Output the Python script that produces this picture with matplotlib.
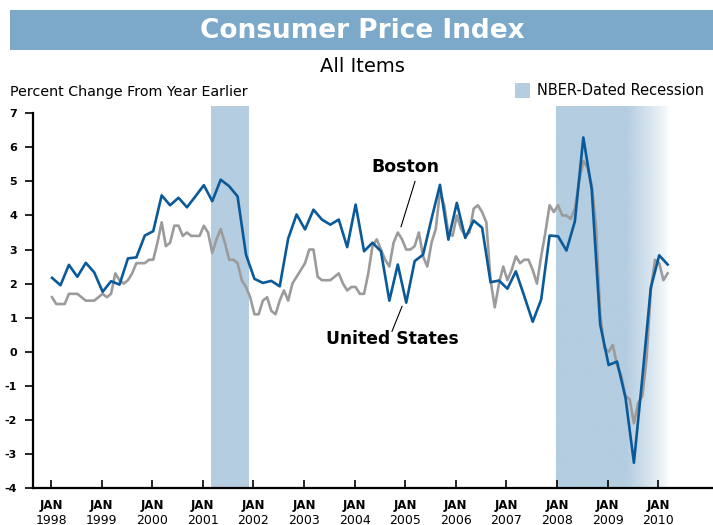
import numpy as np
import matplotlib
matplotlib.use("Agg")
import matplotlib.pyplot as plt
from matplotlib.patches import Rectangle
import matplotlib.transforms as mtransforms

# Boston CPI, bimonthly (Jan, Mar, May, Jul, Sep, Nov), Jan 1998 - Mar 2010
boston = [
    2.17, 1.95, 2.55, 2.20, 2.61, 2.33,   # 1998
    1.76, 2.07, 1.97, 2.74, 2.77, 3.41,   # 1999
    3.54, 4.59, 4.30, 4.52, 4.24, 4.56,   # 2000
    4.89, 4.42, 5.05, 4.86, 4.56, 2.85,   # 2001
    2.14, 2.02, 2.08, 1.92, 3.32, 4.03,   # 2002
    3.59, 4.17, 3.88, 3.73, 3.88, 3.07,   # 2003
    4.32, 2.95, 3.20, 2.95, 1.50, 2.56,   # 2004
    1.44, 2.66, 2.85, 3.90, 4.90, 3.29,   # 2005
    4.37, 3.34, 3.85, 3.64, 2.04, 2.09,   # 2006
    1.85, 2.36, 1.63, 0.88, 1.53, 3.41,   # 2007
    3.39, 2.97, 3.83, 6.29, 4.76, 0.80,   # 2008
    -0.39, -0.29, -1.35, -3.26, -0.76, 1.88,  # 2009
    2.83, 2.56,                           # 2010
]

# United States CPI, monthly, Jan 1998 - Mar 2010
us = [
    1.6, 1.4, 1.4, 1.4, 1.7, 1.7, 1.7, 1.6, 1.5, 1.5, 1.5, 1.6,   # 1998
    1.7, 1.6, 1.7, 2.3, 2.1, 2.0, 2.1, 2.3, 2.6, 2.6, 2.6, 2.7,   # 1999
    2.7, 3.2, 3.8, 3.1, 3.2, 3.7, 3.7, 3.4, 3.5, 3.4, 3.4, 3.4,   # 2000
    3.7, 3.5, 2.9, 3.3, 3.6, 3.2, 2.7, 2.7, 2.6, 2.1, 1.9, 1.6,   # 2001
    1.1, 1.1, 1.5, 1.6, 1.2, 1.1, 1.5, 1.8, 1.5, 2.0, 2.2, 2.4,   # 2002
    2.6, 3.0, 3.0, 2.2, 2.1, 2.1, 2.1, 2.2, 2.3, 2.0, 1.8, 1.9,   # 2003
    1.9, 1.7, 1.7, 2.3, 3.1, 3.3, 3.0, 2.7, 2.5, 3.2, 3.5, 3.3,   # 2004
    3.0, 3.0, 3.1, 3.5, 2.8, 2.5, 3.2, 3.6, 4.7, 4.3, 3.5, 3.4,   # 2005
    4.0, 3.6, 3.4, 3.5, 4.2, 4.3, 4.1, 3.8, 2.1, 1.3, 2.0, 2.5,   # 2006
    2.1, 2.4, 2.8, 2.6, 2.7, 2.7, 2.4, 2.0, 2.8, 3.5, 4.3, 4.1,   # 2007
    4.3, 4.0, 4.0, 3.9, 4.2, 5.0, 5.6, 5.4, 4.9, 3.7, 1.1, 0.1,   # 2008
    0.0, 0.2, -0.4, -0.7, -1.3, -1.4, -2.1, -1.5, -1.3, -0.2, 1.8, 2.7,  # 2009
    2.6, 2.1, 2.3,                                                 # 2010
]

years = list(range(1998, 2011))
recessions = [(2001.17, 2001.92), (2007.98, 2010.22)]

blue = "#0a5a9a"
grey = "#9b9b9b"
shade = "#b4cde0"
banner = "#7ca8ca"

x_bos = 1998 + 0.02 + np.arange(len(boston)) * 2 / 12
x_us = 1998 + 0.02 + np.arange(len(us)) / 12

fig = plt.figure(figsize=(7.13, 5.25), dpi=100)
ax = fig.add_axes([0.0463, 0.0705, 0.9537, 0.7267])

# recession shading; the last one fades out to white
ax.axvspan(recessions[0][0], recessions[0][1], color=shade, lw=0, zorder=0)
x0, x1 = recessions[1]
cols = np.linspace(x0, x1, 300)
alpha = np.clip((x1 - cols) / (x1 - 2009.35), 0, 1) ** 0.8
rgba = np.zeros((1, len(cols), 4))
rgba[..., :3] = matplotlib.colors.to_rgb(shade)
rgba[..., 3] = alpha
ax.imshow(rgba, extent=(x0, x1, -4, 7.2), aspect="auto", zorder=0, interpolation="bilinear")

ax.plot(x_us, us, color=grey, lw=1.9, zorder=2)
ax.plot(x_bos, boston, color=blue, lw=1.9, zorder=3)

ax.set_xlim(1997.644, 2011.083)
ax.set_ylim(-4, 7.2)

for s in ["top", "right"]:
    ax.spines[s].set_visible(False)
ax.spines["left"].set_bounds(-4, 7)
ax.spines["left"].set_linewidth(1.6)
ax.spines["bottom"].set_linewidth(1.6)

ax.set_yticks(range(-4, 8))
ax.set_yticklabels([str(v) for v in range(-4, 8)], fontsize=8, fontweight="bold")
ax.tick_params(axis="y", direction="out", length=6, width=1.2, pad=5.5)

ax.set_xticks(years)
ax.set_xticklabels(["JAN"] * len(years), fontsize=8.5, fontweight="bold")
ax.tick_params(axis="x", direction="in", length=6, width=1.2, pad=8)
trans = mtransforms.blended_transform_factory(ax.transData, ax.transAxes)
for yr in years:
    ax.text(yr, -0.084, str(yr), transform=trans, ha="center", va="center",
            fontsize=9, family=["Liberation Sans Narrow", "DejaVu Sans"])

# series labels
ax.text(2004.996, 5.43, "Boston", ha="center", va="center", fontsize=12.5, fontweight="bold")
ax.plot([2005.194, 2004.917], [5.0, 3.67], color="black", lw=0.8, zorder=4)
ax.text(2004.739, 0.36, "United States", ha="center", va="center", fontsize=12.3, fontweight="bold")
ax.plot([2004.739, 2004.937], [0.60, 1.33], color="black", lw=0.8, zorder=4)

# header
fig.patches.append(Rectangle((0.014, 0.9048), 0.986, 0.0762, transform=fig.transFigure,
                             color=banner, lw=0))
fig.text(0.5077, 0.941, "Consumer Price Index", color="white", fontsize=19,
         fontweight="bold", ha="center", va="center")
fig.text(0.5077, 0.8724, "All Items", fontsize=14, ha="center", va="center")
fig.text(0.014, 0.8248, "Percent Change From Year Earlier", fontsize=10.3, ha="left", va="center")
fig.patches.append(Rectangle((0.7223, 0.8133), 0.021, 0.0286, transform=fig.transFigure,
                             color=shade, lw=0))
fig.text(0.7532, 0.8276, "NBER-Dated Recession", fontsize=10.5, ha="left", va="center")

fig.savefig("out.png", dpi=100)
